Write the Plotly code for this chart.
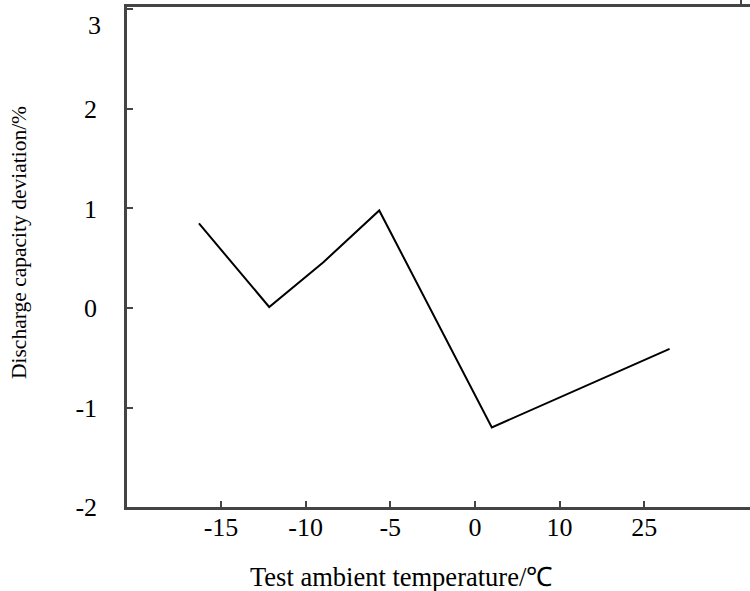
import plotly.graph_objects as go

# Category tick labels (equally spaced on the axis)
tick_labels = ["-15", "-10", "-5", "0", "10", "25"]
tick_pos = [0, 1, 2, 3, 4, 5]

# Series: position along the category axis and deviation (%)
x_pos = [-0.26, 0.57, 1.21, 1.87, 3.20, 5.30]
deviation = [0.85, 0.01, 0.46, 0.98, -1.20, -0.41]

y_ticks = [-2, -1, 0, 1, 2, 3]

FONT = "Liberation Serif"
AX = "#444444"

fig = go.Figure()
fig.add_trace(go.Scatter(
    x=x_pos, y=deviation, mode="lines",
    line=dict(color="black", width=2),
    showlegend=False, hoverinfo="skip",
))

fig.update_layout(
    width=750, height=591,
    margin=dict(l=127, r=0, t=7, b=84),
    paper_bgcolor="white", plot_bgcolor="white",
    font=dict(family=FONT, color="black", size=26),
    xaxis=dict(
        range=[-1.11, 6.25],
        tickmode="array", tickvals=tick_pos, ticktext=tick_labels,
        showline=True, linecolor=AX, linewidth=2.5, mirror=True,
        ticks="inside", ticklen=6, tickwidth=2, tickcolor=AX,
        showgrid=False, zeroline=False,
        tickfont=dict(family=FONT, size=26, color="black"),
        ticklabelstandoff=-5,
    ),
    yaxis=dict(
        range=[-2.0, 3.025],
        tickmode="array", tickvals=y_ticks,
        ticktext=["-2", "-1", "0", "1", "2", ""],
        showline=True, linecolor=AX, linewidth=2.5,
        ticks="inside", ticklen=6, tickwidth=2, tickcolor=AX,
        showgrid=False, zeroline=False,
        tickfont=dict(family=FONT, size=26, color="black"),
        ticklabelstandoff=22,
    ),
    shapes=[
        dict(type="line", xref="paper", yref="paper",
             x0=(741 - 127) / 623, x1=(741 - 127) / 623,
             y0=1, y1=1 + 7 / 500,
             line=dict(color=AX, width=2)),
    ],
    annotations=[
        dict(text="3", x=0, xref="paper", xanchor="right", xshift=-24,
             y=3, yref="y", yanchor="middle", yshift=-16,
             showarrow=False, font=dict(family=FONT, size=26, color="black")),
        dict(text="Test ambient temperature/℃",
             x=(401 - 127) / 623, xref="paper", xanchor="center",
             y=0, yref="paper", yanchor="middle", yshift=-70,
             showarrow=False, font=dict(family=FONT, size=26.5, color="black")),
        dict(text="Discharge capacity deviation/%", textangle=-90,
             x=0, xref="paper", xanchor="center", xshift=-108,
             y=0.5, yref="paper", yanchor="middle", yshift=14,
             showarrow=False, font=dict(family=FONT, size=21.5, color="black")),
    ],
)

fig.write_html("out.html")
